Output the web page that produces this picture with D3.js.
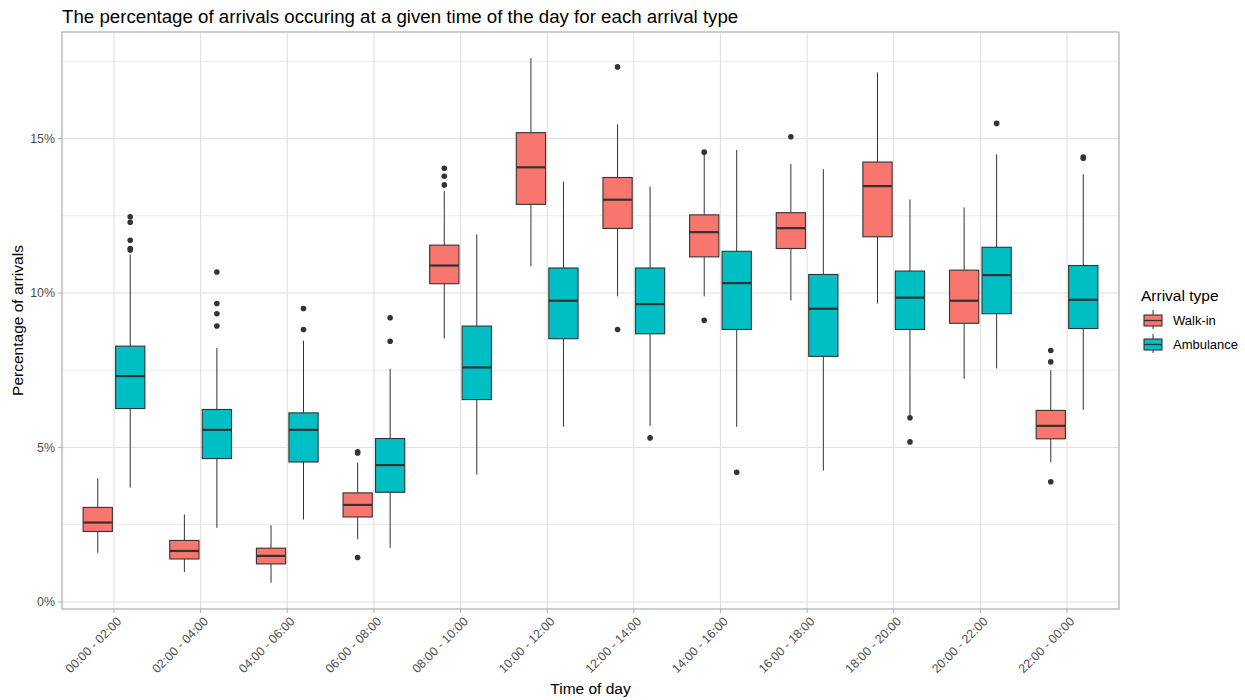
<!DOCTYPE html>
<html>
<head>
<meta charset="utf-8">
<script src="https://cdn.jsdelivr.net/npm/d3@7"></script>
<style>
  body { margin: 0; background: #fff; }
  text { font-family: "Liberation Sans", Arial, sans-serif; }
</style>
</head>
<body>
<div id="chart"></div>
<script>
// time slots on the x axis
var categories = ["00:00 - 02:00", "02:00 - 04:00", "04:00 - 06:00", "06:00 - 08:00",
    "08:00 - 10:00", "10:00 - 12:00", "12:00 - 14:00", "14:00 - 16:00",
    "16:00 - 18:00", "18:00 - 20:00", "20:00 - 22:00", "22:00 - 00:00"];
var types = ["Walk-in", "Ambulance"];
var yTicks = [0, 5, 10, 15];
var yMinor = [2.5, 7.5, 12.5, 17.5];

// walk-in box stats (percent)
var walkLow  = [1.59, 0.97, 0.62, 2.03, 8.53, 10.86, 9.89, 9.89, 9.76, 9.66, 7.22, 4.52];
var walkQ1   = [2.28, 1.39, 1.23, 2.75, 10.30, 12.87, 12.09, 11.17, 11.44, 11.82, 9.02, 5.28];
var walkMed  = [2.57, 1.65, 1.49, 3.14, 10.89, 14.07, 13.02, 11.97, 12.10, 13.46, 9.75, 5.70];
var walkQ3   = [3.06, 1.99, 1.74, 3.53, 11.55, 15.19, 13.74, 12.53, 12.60, 14.24, 10.74, 6.20];
var walkHigh = [4.00, 2.83, 2.48, 4.51, 13.31, 17.60, 15.46, 14.50, 14.18, 17.14, 12.77, 7.50];
var walkOut  = [[], [], [], [4.86, 4.82, 1.44], [14.04, 13.78, 13.50], [], [17.32, 8.82],
    [14.56, 9.12], [15.06], [], [], [8.14, 7.77, 3.89]];

// ambulance box stats (percent)
var ambLow  = [3.70, 2.40, 2.67, 1.75, 4.12, 5.67, 5.70, 5.67, 4.25, 6.05, 7.56, 6.22];
var ambQ1   = [6.26, 4.64, 4.53, 3.55, 6.55, 8.52, 8.68, 8.82, 7.95, 8.82, 9.33, 8.85];
var ambMed  = [7.31, 5.57, 5.57, 4.43, 7.59, 9.75, 9.64, 10.32, 9.49, 9.85, 10.58, 9.78];
var ambQ3   = [8.28, 6.23, 6.12, 5.29, 8.93, 10.81, 10.81, 11.35, 10.60, 10.71, 11.48, 10.89];
var ambHigh = [11.25, 8.22, 8.46, 7.55, 11.90, 13.61, 13.45, 14.63, 14.01, 13.03, 14.49, 13.84];
var ambOut  = [[12.47, 12.29, 11.71, 11.44, 11.39], [10.68, 9.66, 9.33, 8.93], [9.50, 8.82],
    [9.20, 8.44], [], [], [5.31], [4.20], [], [5.96, 5.18], [15.49], [14.40, 14.36]];

var colors = {"Walk-in": "#F8766D", "Ambulance": "#00BFC4"};

var W = 1245, H = 700;
var margin = {left: 62, right: 126, top: 32, bottom: 91};

var svg = d3.select("#chart").append("svg").attr("width", W).attr("height", H);

// build rows
var rows = [];
categories.forEach(function(c, i) {
    rows.push({cat: c, type: "Walk-in", low: walkLow[i], q1: walkQ1[i], med: walkMed[i], q3: walkQ3[i], high: walkHigh[i], out: walkOut[i]});
    rows.push({cat: c, type: "Ambulance", low: ambLow[i], q1: ambQ1[i], med: ambMed[i], q3: ambQ3[i], high: ambHigh[i], out: ambOut[i]});
});

var x = d3.scalePoint().domain(categories).range([margin.left, W - margin.right]).padding(0.6);
var step = x.step();
var xg = d3.scaleBand().domain(types).range([-0.375 * step, 0.375 * step]);
var boxW = xg.bandwidth() * 0.9;

var allVals = [];
rows.forEach(function(r) { allVals.push(r.low, r.high); allVals = allVals.concat(r.out); });
var yLo = d3.min(allVals), yHi = d3.max(allVals), pad = (yHi - yLo) * 0.05;
var y = d3.scaleLinear().domain([yLo - pad, yHi + pad]).range([H - margin.bottom, margin.top]);

var pl = margin.left, pr = W - margin.right, pt = margin.top, pb = H - margin.bottom;

// grid
var grid = svg.append("g");
grid.selectAll(".minor").data(yMinor).enter().append("line")
    .attr("x1", pl).attr("x2", pr).attr("y1", function(d) { return y(d); }).attr("y2", function(d) { return y(d); })
    .attr("stroke", "#E6E6E6").attr("stroke-width", 0.8);
grid.selectAll(".major").data(yTicks).enter().append("line")
    .attr("x1", pl).attr("x2", pr).attr("y1", function(d) { return y(d); }).attr("y2", function(d) { return y(d); })
    .attr("stroke", "#E0E0E0").attr("stroke-width", 1.1);
grid.selectAll(".vmajor").data(categories).enter().append("line")
    .attr("y1", pt).attr("y2", pb).attr("x1", function(d) { return x(d); }).attr("x2", function(d) { return x(d); })
    .attr("stroke", "#E0E0E0").attr("stroke-width", 1.1);

// boxes
var g = svg.append("g").selectAll("g").data(rows).enter().append("g")
    .attr("transform", function(d) { return "translate(" + (x(d.cat) + xg(d.type) + xg.bandwidth() / 2) + ",0)"; });

g.append("line").attr("x1", 0).attr("x2", 0)
    .attr("y1", function(d) { return y(d.high); }).attr("y2", function(d) { return y(d.q3); })
    .attr("stroke", "#333").attr("stroke-width", 1);
g.append("line").attr("x1", 0).attr("x2", 0)
    .attr("y1", function(d) { return y(d.q1); }).attr("y2", function(d) { return y(d.low); })
    .attr("stroke", "#333").attr("stroke-width", 1);
g.append("rect")
    .attr("x", -boxW / 2).attr("width", boxW)
    .attr("y", function(d) { return y(d.q3); })
    .attr("height", function(d) { return y(d.q1) - y(d.q3); })
    .attr("fill", function(d) { return colors[d.type]; })
    .attr("stroke", "#333").attr("stroke-width", 1.1);
g.append("line").attr("x1", -boxW / 2).attr("x2", boxW / 2)
    .attr("y1", function(d) { return y(d.med); }).attr("y2", function(d) { return y(d.med); })
    .attr("stroke", "#333").attr("stroke-width", 2.2);
g.selectAll("circle").data(function(d) { return d.out; }).enter().append("circle")
    .attr("cx", 0).attr("cy", function(v) { return y(v); }).attr("r", 2.8).attr("fill", "#333");

// panel border
svg.append("rect").attr("x", pl).attr("y", pt).attr("width", pr - pl).attr("height", pb - pt)
    .attr("fill", "none").attr("stroke", "#B3B3B3").attr("stroke-width", 1.3);

// y axis
var ya = svg.append("g");
ya.selectAll("line").data(yTicks).enter().append("line")
    .attr("x1", pl - 4).attr("x2", pl).attr("y1", function(d) { return y(d); }).attr("y2", function(d) { return y(d); })
    .attr("stroke", "#B3B3B3").attr("stroke-width", 1.1);
ya.selectAll("text").data(yTicks).enter().append("text")
    .attr("x", pl - 7).attr("y", function(d) { return y(d); }).attr("dy", "0.35em")
    .attr("text-anchor", "end").attr("font-size", 12.4).attr("fill", "#4D4D4D")
    .text(function(d) { return d + "%"; });

// x axis
var xa = svg.append("g");
xa.selectAll("line").data(categories).enter().append("line")
    .attr("x1", function(d) { return x(d); }).attr("x2", function(d) { return x(d); })
    .attr("y1", pb).attr("y2", pb + 4).attr("stroke", "#B3B3B3").attr("stroke-width", 1.1);
xa.selectAll("text").data(categories).enter().append("text")
    .attr("transform", function(d) { return "translate(" + (x(d) + 2) + "," + (pb + 7) + ") rotate(-45)"; })
    .attr("text-anchor", "end").attr("dy", "0.71em").attr("font-size", 12.4).attr("fill", "#4D4D4D")
    .text(function(d) { return d; });

// titles
svg.append("text").attr("x", pl).attr("y", 23).attr("font-size", 18.7).attr("fill", "#000")
    .text("The percentage of arrivals occuring at a given time of the day for each arrival type");
svg.append("text").attr("x", (pl + pr) / 2).attr("y", 694).attr("text-anchor", "middle")
    .attr("font-size", 15.5).attr("fill", "#000").text("Time of day");
svg.append("text").attr("transform", "translate(23," + ((pt + pb) / 2) + ") rotate(-90)")
    .attr("text-anchor", "middle").attr("font-size", 15.5).attr("fill", "#000").text("Percentage of arrivals");

// legend
var lg = svg.append("g").attr("transform", "translate(1141,0)");
lg.append("text").attr("x", 0).attr("y", 301).attr("font-size", 15.5).attr("fill", "#000").text("Arrival type");
var key = lg.selectAll(".key").data(types).enter().append("g")
    .attr("transform", function(d, i) { return "translate(3," + (310 + i * 24) + ")"; });
key.append("line").attr("x1", 9).attr("x2", 9).attr("y1", 0).attr("y2", 19).attr("stroke", "#333").attr("stroke-width", 1);
key.append("rect").attr("x", 0).attr("y", 5).attr("width", 18).attr("height", 11)
    .attr("fill", function(d) { return colors[d]; }).attr("stroke", "#333").attr("stroke-width", 1.1);
key.append("line").attr("x1", 0).attr("x2", 18).attr("y1", 10.5).attr("y2", 10.5).attr("stroke", "#333").attr("stroke-width", 1.3);
key.append("text").attr("x", 29).attr("y", 10).attr("dy", "0.35em").attr("font-size", 13).attr("fill", "#000")
    .text(function(d) { return d; });
</script>
</body>
</html>
